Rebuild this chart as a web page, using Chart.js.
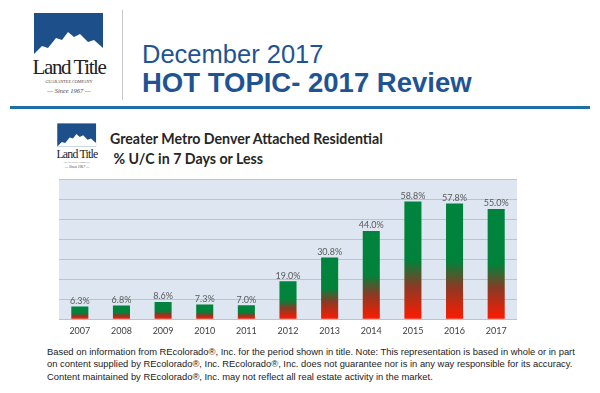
<!DOCTYPE html>
<html>
<head>
<meta charset="utf-8">
<script src="https://cdn.jsdelivr.net/npm/chart.js@4.4.0/dist/chart.umd.min.js"></script>
<style>
  body { margin: 0; width: 600px; height: 393px; background: #fff; position: relative; overflow: hidden; font-family: "Liberation Sans", Arial, sans-serif; }
  .abs { position: absolute; }
  #sep { left: 122px; top: 10px; width: 1px; height: 90px; background: #c8c8c8; }
  #rule { left: 10px; top: 106px; width: 580px; height: 3px; background: #1e6fa8; }
  #t1 { left: 142px; top: 40px; font-size: 25.5px; color: #1f5494; }
  #t2 { left: 142px; top: 67px; font-size: 27.5px; font-weight: bold; color: #1f5494; }
  #ct { left: 110px; top: 129px; font-family: Lato, "Open Sans", sans-serif; font-weight: bold; font-size: 14.2px; color: #262626; line-height: 20px; }
  #foot { left: 47px; top: 346px; font-size: 9.4px; color: #222; line-height: 12.3px; }
  #wrap { left: 40px; top: 170px; width: 500px; height: 172px; }
</style>
</head>
<body>
<svg class="abs" style="left:30px;top:10px" width="80" height="90" viewBox="0 0 80 90">
  <rect x="4" y="3" width="69" height="41" fill="#1d4f8a"/>
  <path d="M4 44 L12 36 L18 38 L26 28 L32 30 L38 22 L44 27 L50 24 L58 32 L64 30 L73 38 L73 44 Z" fill="#fff"/>
  <text x="39" y="64" text-anchor="middle" font-family="Liberation Serif, serif" font-size="21" letter-spacing="-1.4" fill="#222">Land Title</text>
  <text x="39" y="73" text-anchor="middle" font-family="Liberation Serif, serif" font-size="4.2" fill="#444">GUARANTEE COMPANY</text>
  <text x="39" y="83" text-anchor="middle" font-family="Liberation Serif, serif" font-style="italic" font-size="6.5" fill="#444">— Since 1967 —</text>
</svg>
<div id="sep" class="abs"></div>
<div id="t1" class="abs">December 2017</div>
<div id="t2" class="abs">HOT TOPIC- 2017 Review</div>
<div id="rule" class="abs"></div>
<svg class="abs" style="left:55px;top:121px" width="45" height="52" viewBox="0 0 80 90">
  <rect x="4" y="3" width="69" height="41" fill="#1d4f8a"/>
  <path d="M4 44 L12 36 L18 38 L26 28 L32 30 L38 22 L44 27 L50 24 L58 32 L64 30 L73 38 L73 44 Z" fill="#fff"/>
  <text x="39" y="64" text-anchor="middle" font-family="Liberation Serif, serif" font-size="21" letter-spacing="-1.4" fill="#222">Land Title</text>
  <text x="39" y="73" text-anchor="middle" font-family="Liberation Serif, serif" font-size="4.2" fill="#444">GUARANTEE COMPANY</text>
  <text x="39" y="83" text-anchor="middle" font-family="Liberation Serif, serif" font-style="italic" font-size="6.5" fill="#444">— Since 1967 —</text>
</svg>
<div id="ct" class="abs">Greater Metro Denver Attached Residential<br>&nbsp;% U/C in 7 Days or Less</div>
<div id="wrap" class="abs"><canvas id="chart"></canvas></div>
<div id="foot" class="abs">Based on information from REcolorado®, Inc. for the period shown in title. Note: This representation is based in whole or in part<br>on content supplied by REcolorado®, Inc. REcolorado®, Inc. does not guarantee nor is in any way responsible for its accuracy.<br>Content maintained by REcolorado®, Inc. may not reflect all real estate activity in the market.</div>
<script>
const years = ['2007', '2008', '2009', '2010', '2011', '2012', '2013', '2014', '2015', '2016', '2017'];
const pctFast = [6.3, 6.8, 8.6, 7.3, 7.0, 19.0, 30.8, 44.0, 58.8, 57.8, 55.0];

// plot background
const plotBg = {
    id: 'plotBg',
    beforeDraw(chart) {
        const a = chart.chartArea;
        const ctx = chart.ctx;
        ctx.save();
        ctx.fillStyle = '#dde6f1';
        ctx.fillRect(a.left, a.top, a.right - a.left, a.bottom - a.top);
        ctx.restore();
    }
};

// value labels above bars
const barLabels = {
    id: 'barLabels',
    afterDatasetsDraw(chart) {
        const ctx = chart.ctx;
        const meta = chart.getDatasetMeta(0);
        ctx.save();
        ctx.font = '9px Lato, "Open Sans", sans-serif';
        ctx.fillStyle = '#595959';
        ctx.textAlign = 'center';
        ctx.textBaseline = 'bottom';
        meta.data.forEach((bar, i) => {
            ctx.fillText(pctFast[i].toFixed(1) + '%', bar.x, bar.y - 1);
        });
        ctx.restore();
    }
};

function barGradient(context) {
    const chart = context.chart;
    if (!chart.chartArea || !chart.scales.y) return '#00843d';
    const v = pctFast[context.dataIndex];
    const top = chart.scales.y.getPixelForValue(v);
    const bottom = chart.scales.y.getPixelForValue(0);
    const g = chart.ctx.createLinearGradient(0, top, 0, bottom);
    g.addColorStop(0, '#00843d');
    g.addColorStop(0.5, '#00823b');
    g.addColorStop(0.72, '#8a3a24');
    g.addColorStop(1, '#ff1a00');
    return g;
}

const ctx = document.getElementById('chart').getContext('2d');
new Chart(ctx, {
    type: 'bar',
    data: {
        labels: years,
        datasets: [{
            data: pctFast,
            backgroundColor: barGradient,
            borderWidth: 0,
            barPercentage: 0.82,
            categoryPercentage: 0.5
        }]
    },
    options: {
        responsive: true,
        maintainAspectRatio: false,
        animation: false,
        layout: { padding: { left: 19, right: 23, top: 9, bottom: 0 } },
        plugins: {
            legend: { display: false },
            tooltip: { enabled: false }
        },
        scales: {
            x: {
                grid: { display: false, drawTicks: false, tickLength: 0 },
                border: { display: false },
                ticks: {
                    color: '#404040',
                    font: { family: 'Lato, "Open Sans", sans-serif', size: 9 },
                    padding: 6
                }
            },
            y: {
                min: 0,
                max: 70,
                ticks: { display: false, stepSize: 10 },
                border: { display: false },
                grid: { color: '#b9c4d1', lineWidth: 1, drawTicks: false }
            }
        }
    },
    plugins: [plotBg, barLabels]
});
</script>
</body>
</html>
